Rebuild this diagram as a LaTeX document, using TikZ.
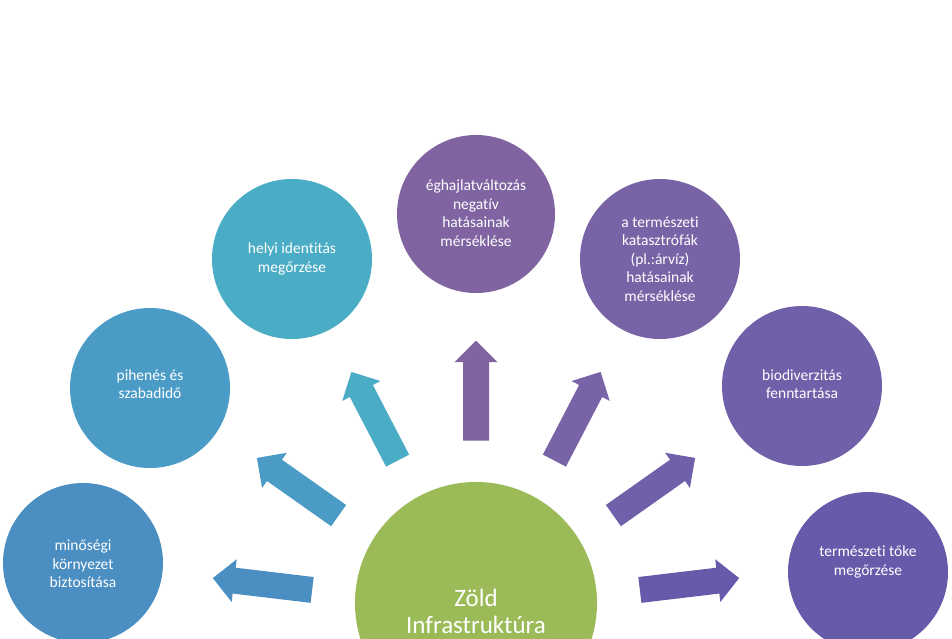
\documentclass[tikz,border=0pt]{standalone}
\usepackage{fontspec}
\setmainfont{Carlito}[Ligatures={NoCommon}]
\definecolor{cA}{HTML}{4A8EC2}
\definecolor{cB}{HTML}{4A9CC6}
\definecolor{cC}{HTML}{4BACC6}
\definecolor{cD}{HTML}{8064A2}
\definecolor{cE}{HTML}{7763A6}
\definecolor{cF}{HTML}{6F60A9}
\definecolor{cG}{HTML}{665BAA}
\definecolor{cGreen}{HTML}{9BBB59}
\tikzset{
  bubble/.style={circle, minimum size=160pt, inner sep=0pt, fill=#1},
  btext/.style={text=white, align=center, font=\fontsize{15.5}{18.5}\selectfont, inner sep=0pt},
  pics/barrow/.style={code={\fill[pic actions] (-50,-13) -- (28.5,-13) -- (28.5,-21.5) -- (50,0) -- (28.5,21.5) -- (28.5,13) -- (-50,13) -- cycle;}}
}
\begin{document}
\begin{tikzpicture}[x=1pt,y=-1pt]
\useasboundingbox (0,0) rectangle (952,638);
\clip (0,0) rectangle (952,638);
\fill[white] (0,0) rectangle (952,638);
% circles
\node[bubble=cA] (c1) at (83,563) {};
\node[bubble=cB] (c2) at (150,388) {};
\node[bubble=cC] (c3) at (292,259) {};
\node[bubble=cD, minimum size=158pt] (c4) at (476,214) {};
\node[bubble=cE] (c5) at (660,259) {};
\node[bubble=cF] (c6) at (802,386) {};
\node[bubble=cG] (c7) at (868,572) {};
\node[circle, minimum size=242pt, inner sep=0pt, fill=cGreen] (z) at (476,603) {};
% texts
\node[btext] (t1) at (83,564) {minőségi\\környezet\\biztosítása};
\node[btext] (t2) at (150,384) {pihenés és\\szabadidő};
\node[btext] (t3) at (292,259) {helyi identitás\\megőrzése};
\node[btext] (t4) at (476,213) {éghajlatváltozás\\negatív\\hatásainak\\mérséklése};
\node[btext] (t5) at (660,259) {a természeti\\katasztrófák\\(pl.:árvíz)\\hatásainak\\mérséklése};
\node[btext] (t6) at (802,384) {biodiverzitás\\fenntartása};
\node[btext] (t7) at (868,562) {természeti tőke\\megőrzése};
\node[btext, font=\fontsize{25}{27}\selectfont] (tz) at (476,611) {Zöld\\Infrastruktúra};
% arrows
\coordinate (a1) at (262.5,584);
\coordinate (a2) at (297.75,486.75);
\coordinate (a3) at (374.5,416.25);
\coordinate (a4) at (476,390.5);
\coordinate (a5) at (577.5,416.25);
\coordinate (a6) at (654.25,486.75);
\coordinate (a7) at (689.5,584);
\pic[fill=cA, rotate=173.2] at (a1) {barrow};
\pic[fill=cB, rotate=144.8] at (a2) {barrow};
\pic[fill=cC, rotate=117.5] at (a3) {barrow};
\pic[fill=cD, rotate=90] at (a4) {barrow};
\pic[fill=cE, rotate=62.5] at (a5) {barrow};
\pic[fill=cF, rotate=35.2] at (a6) {barrow};
\pic[fill=cG, rotate=6.8] at (a7) {barrow};
\end{tikzpicture}
\end{document}
